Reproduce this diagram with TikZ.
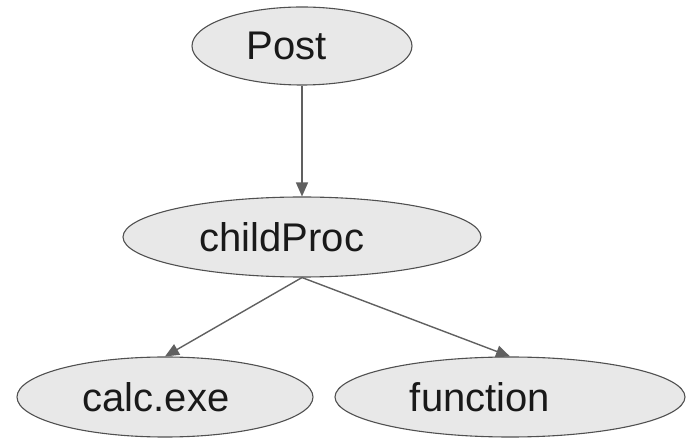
\documentclass[tikz,border=0pt]{standalone}
\usepackage{fontspec}
\setmainfont{Liberation Sans}
\usetikzlibrary{shapes.geometric,arrows.meta}
\definecolor{nodefill}{HTML}{E8E8E8}
\definecolor{nodeline}{HTML}{505050}
\definecolor{edgecol}{HTML}{606060}
\begin{document}
\begin{tikzpicture}[x=1pt,y=-1pt,
  ell/.style={ellipse, draw=nodeline, fill=nodefill, line width=1.1pt, inner sep=0pt},
  lbl/.style={anchor=base, font=\fontsize{40}{40}\selectfont, text=black!90, inner sep=0pt},
  edge/.style={draw=edgecol, line width=1.4pt, -{Triangle[length=14pt,width=12pt]}}]
\useasboundingbox (0,0) rectangle (686,438);
\node[ell, minimum width=220pt, minimum height=78pt] (post) at (302,46) {};
\node[ell, minimum width=358pt, minimum height=80pt] (child) at (302,237) {};
\node[ell, minimum width=296pt, minimum height=80pt] (calc) at (165,397) {};
\node[ell, minimum width=350pt, minimum height=80pt] (func) at (510,397) {};
\node[lbl] (tpost) at (287,60) {Post};
\node[lbl] (tchild) at (282,252) {childProc};
\node[lbl] (tcalc) at (156,412) {calc.exe};
\node[lbl] (tfunc) at (480,412) {function};
\draw[edge] (post.south) -- (child.north);
\draw[edge] (child.south) -- (calc.north);
\draw[edge] (child.south) -- (func.north);
\end{tikzpicture}
\end{document}
